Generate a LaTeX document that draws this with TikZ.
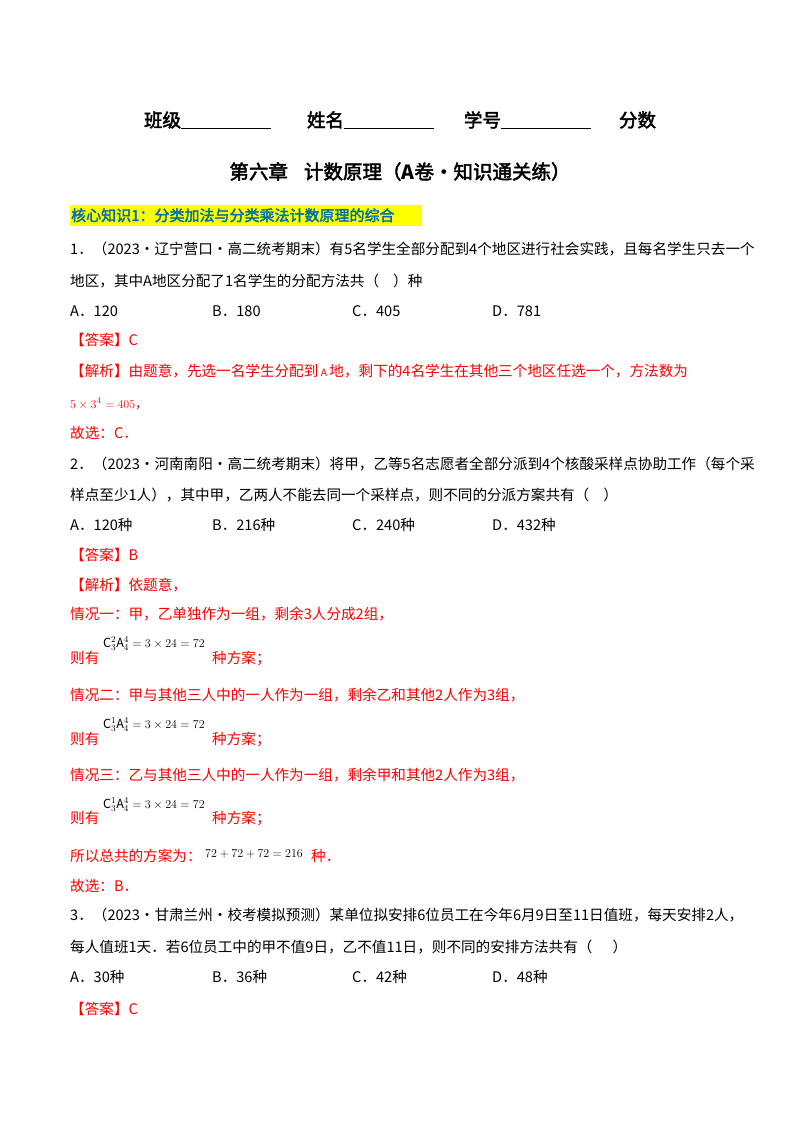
\documentclass[tikz,border=0pt]{standalone}
\usepackage{fontspec}
\setmainfont{Noto Sans CJK SC}[AutoFakeBold=2.5]
\definecolor{hl}{RGB}{255,255,0}
\definecolor{kt}{RGB}{0,112,170}
\begin{document}
\begin{tikzpicture}[x=1pt,y=-1pt,
  t/.style={anchor=base west,inner sep=0pt,font=\fontsize{14.6}{15}\selectfont},
  r/.style={t,text=red},
  f/.style={anchor=base west,inner sep=0pt,font=\fontsize{12.5}{14}\selectfont}]
\useasboundingbox[fill=white] (0,0) rectangle (800,1132);
\node[anchor=base,inner sep=0pt,font=\fontsize{18.5}{20}\selectfont\bfseries] (hd) at (400,127) {班级\underline{\hspace{90pt}}\hspace{36pt}姓名\underline{\hspace{90pt}}\hspace{30pt}学号\underline{\hspace{90pt}}\hspace{28pt}分数};
\node[anchor=base,inner sep=0pt,font=\fontsize{19.5}{21}\selectfont\bfseries] (ti) at (400,179) {第六章\hspace{16pt}计数原理（\textit{A}卷·知识通关练）};
\fill[hl] (70,205) rectangle (422,226);
\node[t,text=kt,font=\fontsize{15}{16}\selectfont\bfseries] (k1) at (71,221) {核心知识1：分类加法与分类乘法计数原理的综合};
\node[t] (q1a) at (70,254) {1．（2023·辽宁营口·高二统考期末）有5名学生全部分配到4个地区进行社会实践，且每名学生只去一个};
\node[t] (q1b) at (70,286) {地区，其中\textit{A}地区分配了1名学生的分配方法共（\hspace{14pt}）种};
\node[t] (o1a) at (70,316) {A．120};
\node[t] (o1b) at (212,316) {B．180};
\node[t] (o1c) at (352,316) {C．405};
\node[t] (o1d) at (492,316) {D．781};
\node[r] (a1) at (70,345) {【答案】C};
\node[r] (j1) at (70,376) {【解析】由题意，先选一名学生分配到\,$\scriptstyle\mathrm{A}$\,地，剩下的4名学生在其他三个地区任选一个，方法数为};
\node[f,text=red] (e1) at (70,408) {$5\times3^4=405$，};
\node[r] (g1) at (70,438) {故选：C．};
\node[t] (q2a) at (70,469) {2．（2023·河南南阳·高二统考期末）将甲，乙等5名志愿者全部分派到4个核酸采样点协助工作（每个采};
\node[t] (q2b) at (70,500) {样点至少1人），其中甲，乙两人不能去同一个采样点，则不同的分派方案共有（\hspace{14pt}）};
\node[t] (o2a) at (70,530) {A．120种};
\node[t] (o2b) at (212,530) {B．216种};
\node[t] (o2c) at (352,530) {C．240种};
\node[t] (o2d) at (492,530) {D．432种};
\node[r] (a2) at (70,560) {【答案】B};
\node[r] (j2) at (70,590) {【解析】依题意，};
\node[r] (c1) at (70,619) {情况一：甲，乙单独作为一组，剩余3人分成2组，};
\node[f] (e2) at (103,647) {$\mathrm{C}_3^2\mathrm{A}_4^4=3\times24=72$};
\node[r] (z1) at (70,663) {则有};
\node[r] (z1b) at (212,663) {种方案；};
\node[r] (c2) at (70,700) {情况二：甲与其他三人中的一人作为一组，剩余乙和其他2人作为3组，};
\node[f] (e3) at (103,728) {$\mathrm{C}_3^1\mathrm{A}_4^4=3\times24=72$};
\node[r] (z2) at (70,744) {则有};
\node[r] (z2b) at (212,744) {种方案；};
\node[r] (c3) at (70,780) {情况三：乙与其他三人中的一人作为一组，剩余甲和其他2人作为3组，};
\node[f] (e4) at (103,808) {$\mathrm{C}_3^1\mathrm{A}_4^4=3\times24=72$};
\node[r] (z3) at (70,823) {则有};
\node[r] (z3b) at (212,823) {种方案；};
\node[r] (s1) at (70,861) {所以总共的方案为：};
\node[f] (e5) at (205,857) {$72+72+72=216$};
\node[r] (s1b) at (311,861) {种．};
\node[r] (g2) at (70,891) {故选：B．};
\node[t] (q3a) at (70,920) {3．（2023·甘肃兰州·校考模拟预测）某单位拟安排6位员工在今年6月9日至11日值班，每天安排2人，};
\node[t] (q3b) at (70,952) {每人值班1天．若6位员工中的甲不值9日，乙不值11日，则不同的安排方法共有（\hspace{20pt}）};
\node[t] (o3a) at (70,982) {A．30种};
\node[t] (o3b) at (212,982) {B．36种};
\node[t] (o3c) at (352,982) {C．42种};
\node[t] (o3d) at (492,982) {D．48种};
\node[r] (a3) at (70,1014) {【答案】C};
\end{tikzpicture}
\end{document}
